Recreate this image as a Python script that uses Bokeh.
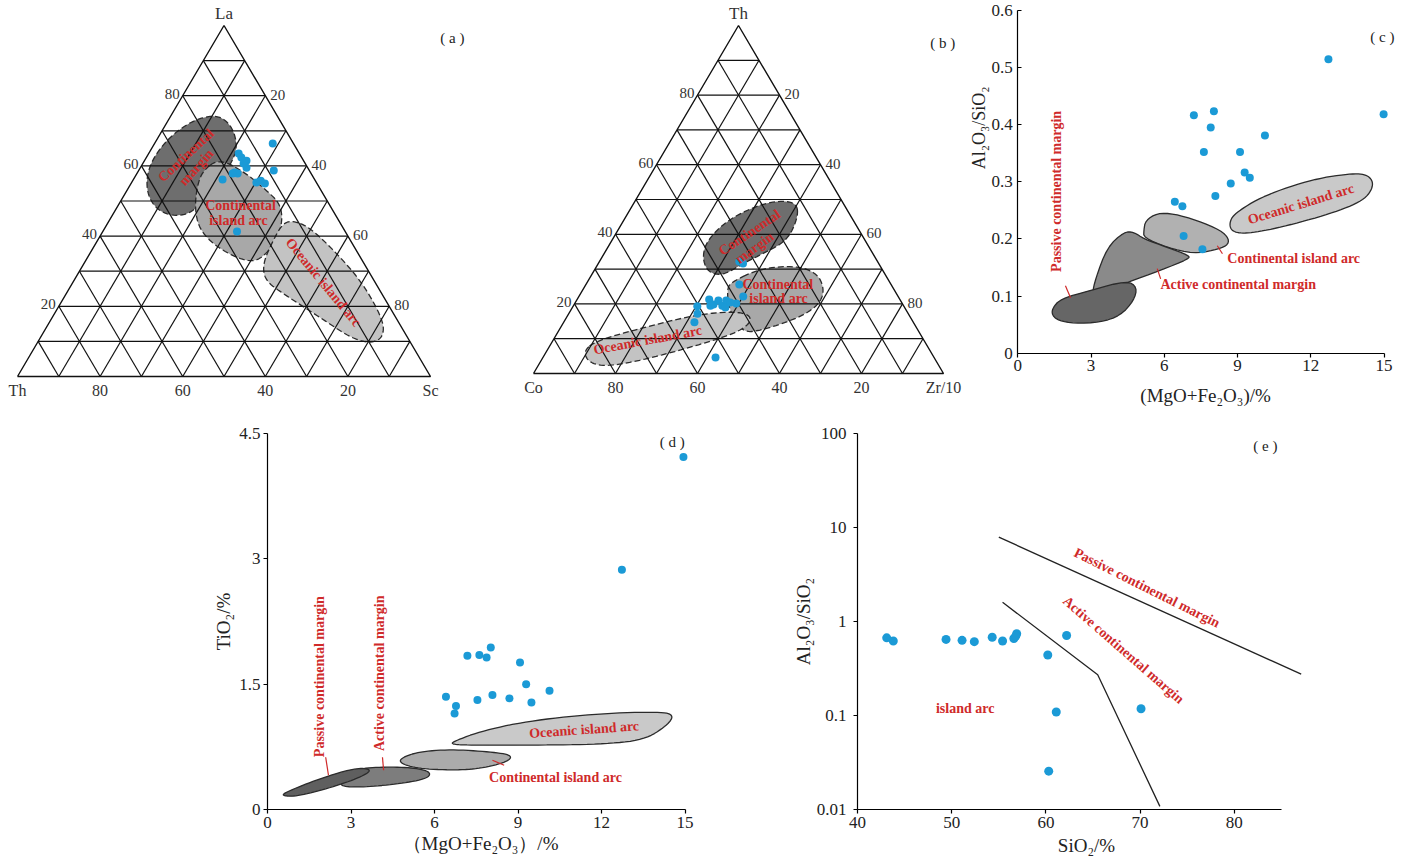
import numpy as np
from bokeh.plotting import figure
from bokeh.layouts import row, column
from bokeh.models import FixedTicker, CustomJSTickFormatter
from bokeh.embed import file_html
from bokeh.resources import INLINE
from bokeh.core.properties import value

SERIF = "Liberation Serif"
RED = "#cf2a2a"
BLUE = "#1b9ad6"
EDGE = "#2b2b2b"
INK = "#222222"

# ---------------- (a) La-Th-Sc ternary: samples (%)
a_La = [66.4, 63.5, 62.4, 61.5, 59.5, 58.1, 57.8, 57.8, 56.1, 58.7, 55.3, 55.8, 55.0, 41.3, 60.7]
a_Th = [5.0, 14.7, 14.6, 13.8, 14.8, 18.4, 17.8, 19.0, 22.3, 8.6, 14.5, 13.2, 12.6, 26.2, 14.9]
a_Sc = [28.6, 21.8, 23.0, 24.7, 25.7, 23.5, 24.4, 23.2, 21.6, 32.7, 30.2, 31.0, 32.4, 32.5, 24.4]
# (a) field outlines (La, Sc in %, Th = rest)
a_cm_La = [74.6, 71.5, 65.8, 60.7, 55.8, 50.7, 46.7, 45.6, 47.3, 51.6, 57.3, 63.0, 68.7, 73.2]
a_cm_Sc = [11.1, 16.1, 20.4, 21.5, 20.6, 20.0, 18.9, 15.3, 10.3, 5.7, 2.6, 1.7, 2.9, 6.2]
a_cia_La = [58.7, 62.1, 57.8, 53.0, 49.3, 44.4, 38.7, 33.0, 33.0, 36.8, 41.6, 47.3, 53.8]
a_cia_Sc = [15.5, 17.9, 26.6, 33.8, 38.9, 42.0, 43.4, 42.2, 38.1, 29.9, 23.4, 19.3, 16.5]
a_oia_La = [44.4, 42.5, 35.0, 26.5, 16.0, 11.1, 9.4, 11.1, 16.8, 23.6, 27.4, 32.2, 38.7, 43.6]
a_oia_Sc = [44.5, 49.5, 59.9, 70.4, 80.6, 83.0, 80.7, 75.0, 64.9, 52.5, 46.2, 43.3, 42.5, 42.4]

# ---------------- (b) Th-Co-Zr/10 ternary: samples (%)
b_Th = [32.2, 31.6, 25.6, 22.1, 20.1, 21.3, 19.8, 21.0, 19.5, 21.0, 19.0, 19.5, 19.3, 17.2, 14.7, 4.6, 20.4]
b_Zr = [34.1, 35.3, 37.4, 40.1, 39.4, 32.2, 34.0, 34.6, 36.3, 36.5, 37.3, 33.4, 30.3, 31.4, 31.9, 42.1, 37.8]
b_Co = [33.7, 33.1, 37.0, 37.8, 40.5, 46.5, 46.2, 44.4, 44.2, 42.5, 43.7, 47.1, 50.4, 51.4, 53.4, 53.3, 41.8]
b_cm_Th = [48.9, 44.8, 38.2, 34.5, 31.6, 28.2, 29.0, 33.3, 38.2, 44.0, 48.3, 49.7]
b_cm_Zr = [39.8, 42.1, 42.8, 38.8, 35.3, 32.2, 28.1, 24.5, 23.2, 25.2, 30.4, 35.3]
b_cia_Th = [26.1, 30.2, 31.0, 28.7, 24.4, 20.4, 17.0, 14.4, 12.4, 11.8, 14.7, 19.5, 23.9]
b_cia_Zr = [34.9, 40.2, 48.8, 54.9, 58.7, 59.8, 57.8, 53.7, 49.1, 45.8, 41.9, 37.8, 35.3]
b_oia_Th = [6.6, 9.5, 13.2, 16.7, 17.8, 17.2, 14.7, 11.5, 7.5, 3.7, 2.0, 3.2]
b_oia_Zr = [8.9, 10.8, 20.2, 30.6, 38.4, 43.8, 45.8, 43.5, 34.5, 24.2, 16.6, 11.8]

tern_grid = [10, 20, 30, 40, 50, 60, 70, 80, 90]
tern_labels = [20, 40, 60, 80]
tern_bottom_ticks = [0, 20, 40, 60, 80, 100]

# ---------------- (c) Al2O3/SiO2 vs MgO+Fe2O3
c_x = [12.72, 14.98, 7.21, 8.03, 7.90, 10.12, 7.62, 9.10, 9.29, 9.50, 8.72, 8.09, 6.43, 6.74, 6.79, 7.56]
c_y = [0.514, 0.418, 0.416, 0.423, 0.395, 0.381, 0.352, 0.352, 0.316, 0.307, 0.297, 0.275, 0.265, 0.257, 0.205, 0.182]
c_pcm_x = [1.41, 1.75, 2.98, 4.48, 4.89, 4.75, 4.21, 3.39, 2.30, 1.68, 1.41]
c_pcm_y = [0.078, 0.095, 0.110, 0.127, 0.115, 0.092, 0.066, 0.054, 0.052, 0.057, 0.066]
c_acm_x = [3.05, 3.18, 3.66, 4.34, 4.75, 5.16, 6.12, 7.01, 7.01, 5.85, 4.48, 3.25]
c_acm_y = [0.104, 0.130, 0.185, 0.212, 0.212, 0.200, 0.185, 0.171, 0.165, 0.145, 0.124, 0.101]
c_cia_x = [5.16, 5.23, 5.71, 6.39, 7.35, 8.31, 8.65, 8.58, 8.03, 7.21, 6.12, 5.16]
c_cia_y = [0.215, 0.232, 0.245, 0.244, 0.232, 0.215, 0.200, 0.188, 0.180, 0.174, 0.185, 0.202]
c_oia_x = [8.65, 8.85, 10.08, 12.13, 13.77, 14.39, 14.59, 14.18, 12.82, 10.77, 9.40, 8.79]
c_oia_y = [0.226, 0.244, 0.276, 0.305, 0.315, 0.311, 0.293, 0.267, 0.244, 0.220, 0.209, 0.212]
c_xticks = [0, 3, 6, 9, 12, 15]
c_yticks = [0, 0.1, 0.2, 0.3, 0.4, 0.5, 0.6]

# ---------------- (d) TiO2 vs MgO+Fe2O3
d_x = [14.94, 12.73, 8.02, 7.18, 7.61, 7.87, 9.07, 9.29, 10.13, 6.41, 8.08, 8.69, 7.54, 9.48, 6.77, 6.72]
d_y = [4.22, 2.87, 1.94, 1.84, 1.85, 1.82, 1.76, 1.50, 1.42, 1.35, 1.37, 1.33, 1.31, 1.28, 1.24, 1.15]
d_pcm_x = [0.54, 1.56, 2.63, 3.35, 3.77, 3.23, 2.16, 1.08, 0.60]
d_pcm_y = [0.19, 0.33, 0.45, 0.50, 0.47, 0.37, 0.25, 0.16, 0.16]
d_acm_x = [2.57, 3.23, 4.19, 5.27, 5.87, 5.75, 4.79, 3.59, 2.75]
d_acm_y = [0.32, 0.49, 0.51, 0.50, 0.45, 0.37, 0.31, 0.27, 0.27]
d_cia_x = [4.76, 5.39, 6.58, 8.02, 8.80, 8.62, 7.66, 6.70, 5.39, 4.79]
d_cia_y = [0.61, 0.69, 0.72, 0.69, 0.65, 0.57, 0.49, 0.47, 0.49, 0.55]
d_oia_x = [6.64, 7.78, 9.58, 11.97, 14.13, 14.60, 14.37, 13.53, 11.97, 9.58, 7.18, 6.64]
d_oia_y = [0.81, 0.95, 1.07, 1.15, 1.17, 1.13, 1.01, 0.83, 0.78, 0.77, 0.77, 0.78]
d_xticks = [0, 3, 6, 9, 12, 15]
d_yticks = [0, 1.5, 3, 4.5]

# ---------------- (e) Al2O3/SiO2 (log) vs SiO2
e_x = [43.1, 43.8, 49.4, 51.1, 52.4, 54.3, 55.4, 56.6, 56.9, 56.8, 62.2, 60.2, 61.1, 70.1, 60.3]
e_y = [0.67, 0.62, 0.645, 0.63, 0.61, 0.68, 0.62, 0.66, 0.74, 0.70, 0.71, 0.44, 0.109, 0.118, 0.0256]
e_pass_x = [55.0, 87.1]
e_pass_y = [7.9, 0.275]
e_act_x = [55.4, 65.5, 72.1]
e_act_y = [1.60, 0.271, 0.0108]
e_xticks = [40, 50, 60, 70, 80]
e_yticks = [0.01, 0.1, 1, 10, 100]


def chaikin(xs, ys, n=3):
    pts = np.column_stack([np.asarray(xs, float), np.asarray(ys, float)])
    for _ in range(n):
        nxt = np.roll(pts, -1, axis=0)
        out = np.empty((2 * len(pts), 2))
        out[0::2] = 0.75 * pts + 0.25 * nxt
        out[1::2] = 0.25 * pts + 0.75 * nxt
        pts = out
    return list(pts[:, 0]), list(pts[:, 1])


def tern_xy(top, right, left=None):
    top = np.asarray(top, float)
    right = np.asarray(right, float)
    total = 100.0 if left is None else top + right + np.asarray(left, float)
    t = top / total * 100
    r = right / total * 100
    return list(r + t / 2), list(t)


def make_fig(w, h, xr, yr, l, r, t, b, yaxis=True, **kw):
    extra = {} if yaxis else dict(y_axis_location=None)
    p = figure(width=w, height=h, x_range=xr, y_range=yr, output_backend="svg", title=None,
               toolbar_location=None, min_border_left=l, min_border_right=r,
               min_border_top=t, min_border_bottom=b, **extra, **kw)
    p.grid.visible = False
    p.outline_line_color = None
    p.background_fill_color = "white"
    p.border_fill_color = "white"
    return p


def style_axis(ax, ticks, size="16px", standoff=3, tick_in=0, tick_out=4):
    ax.ticker = FixedTicker(ticks=ticks)
    ax.formatter = CustomJSTickFormatter(code="return String(Math.round(tick*1000)/1000);")
    ax.axis_line_color = "black"
    ax.axis_line_width = 1.2
    ax.major_tick_line_color = "black"
    ax.major_tick_line_width = 1.2
    ax.major_tick_in = tick_in
    ax.major_tick_out = tick_out
    ax.minor_tick_line_color = None
    ax.major_label_text_font = SERIF
    ax.major_label_text_font_size = size
    ax.major_label_text_color = INK
    ax.major_label_standoff = standoff
    ax.axis_label_text_font = SERIF
    ax.axis_label_text_font_style = "normal"
    ax.axis_label_text_font_size = "19px"
    ax.axis_label_text_color = INK


def red_text(p, x, y, text, angle=0, align="center", size="14px"):
    p.text(x=[x], y=[y], text=[text], angle=angle, angle_units="deg",
           text_font=value(SERIF), text_font_size=size, text_color=RED, text_font_style="bold",
           text_align=align, text_baseline="middle")


def plain_text(p, x, y, text, size="15px", angle=0):
    p.text(x=[x], y=[y], text=[text], angle=angle, angle_units="deg", text_font=value(SERIF),
           text_font_size=size, text_color=INK, text_align="center", text_baseline="middle")


def ternary(p, fields, pts, top_name, left_name, right_name):
    for (fx, fy, col) in fields:
        sx, sy = chaikin(fx, fy, 3)
        p.patch(sx, sy, fill_color=col, line_color=EDGE, line_width=1.3, line_dash="6 3")
    xs, ys = [], []
    for k in tern_grid:
        xs.append([k / 2, 100 - k / 2]); ys.append([k, k])
        xs.append([k, k + (100 - k) / 2]); ys.append([0, 100 - k])
        xs.append([100 - k, (100 - k) / 2]); ys.append([0, 100 - k])
    p.multi_line(xs, ys, line_color="#111111", line_width=1.2)
    p.line([0, 100, 50, 0], [0, 0, 100, 0], line_color="#111111", line_width=1.4)
    p.scatter(pts[0], pts[1], size=8, fill_color=BLUE, line_color=None)
    tl = tern_labels
    common = dict(text_font=value(SERIF), text_font_size="15px", text_color="#333333",
                  text_baseline="middle")
    p.text(x=[v / 2 for v in tl], y=tl, text=[str(v) for v in tl], x_offset=-3, y_offset=-2,
           text_align="right", **common)
    p.text(x=[100 - v / 2 for v in tl], y=tl, text=[str(100 - v) for v in tl], x_offset=5,
           y_offset=-1, text_align="left", **common)
    p.text(x=[50], y=[100], text=[top_name], y_offset=-12, text_font=value(SERIF),
           text_font_size="17px", text_color="#333333", text_baseline="middle", text_align="center")
    ax = p.xaxis[0]
    ax.fixed_location = 0
    ax.ticker = FixedTicker(ticks=tern_bottom_ticks)
    ax.major_label_overrides = {t: (left_name if t == 0 else right_name if t == 100 else str(100 - t))
                                for t in tern_bottom_ticks}
    ax.axis_line_color = None
    ax.major_tick_line_color = None
    ax.minor_tick_line_color = None
    ax.major_tick_in = 0
    ax.major_tick_out = 0
    ax.major_label_standoff = 5
    ax.major_label_text_font = SERIF
    ax.major_label_text_font_size = "16px"
    ax.major_label_text_color = "#333333"


# ---------------- row 1 (axes drawn at fixed locations, frames fill the figures)
H1 = 420
XB = 965  # boundary between panels (b) and (c)

# panel (a)
pa = make_fig(490, H1, (-17 / 4.13, (490 - 17) / 4.13), ((376 - H1) / 3.51, 376 / 3.51),
              0, 0, 0, 0, yaxis=False)
a_fields = []
for La, Sc, col in ((a_cm_La, a_cm_Sc, "#6e6e6e"), (a_cia_La, a_cia_Sc, "#a8a8a8"),
                    (a_oia_La, a_oia_Sc, "#c3c3c3")):
    fx, fy = tern_xy(La, Sc)
    a_fields.append((fx, fy, col))
ternary(pa, a_fields, tern_xy(a_La, a_Sc, a_Th), "La", "Th", "Sc")
red_text(pa, 40.8, 63.0, "Continental", angle=43)
red_text(pa, 43.3, 59.6, "margin", angle=48)
red_text(pa, 54.0, 48.7, "Continental")
red_text(pa, 53.5, 44.4, "island arc")
red_text(pa, 74.1, 26.8, "Oceanic island arc", angle=-50.6)
plain_text(pa, 105.3, 96.3, "( a )")

# panel (b)
pb = make_fig(XB - 490, H1, ((490 - 533) / 4.10, (XB - 533) / 4.10), ((373 - H1) / 3.48, 373 / 3.48),
              0, 0, 0, 0, yaxis=False)
b_fields = []
for Th, Zr, col in ((b_cm_Th, b_cm_Zr, "#6e6e6e"), (b_cia_Th, b_cia_Zr, "#a8a8a8"),
                    (b_oia_Th, b_oia_Zr, "#c3c3c3")):
    fx, fy = tern_xy(Th, Zr)
    b_fields.append((fx, fy, col))
ternary(pb, b_fields, tern_xy(b_Th, b_Zr, b_Co), "Th", "Co", "Zr/10")
red_text(pb, 52.7, 40.5, "Continental", angle=33.7)
red_text(pb, 53.9, 36.1, "margin", angle=36)
red_text(pb, 59.6, 25.6, "Continental")
red_text(pb, 60.2, 21.5, "island  arc")
red_text(pb, 28.7, 9.8, "Oceanic  island  arc", angle=10.5)
plain_text(pb, 99.8, 95.1, "( b )")

# panel (c)
C_SX, C_SY = 24.42, 571.7
pc = make_fig(1410 - XB, H1, ((XB - 1017.3) / C_SX, (1410 - 1017.3) / C_SX),
              ((352.7 - H1) / C_SY, 352.7 / C_SY), 0, 0, 0, 0)
style_axis(pc.xaxis[0], c_xticks, size="17px")
style_axis(pc.yaxis[0], c_yticks, size="17px", standoff=5, tick_in=4, tick_out=0)
pc.xaxis[0].fixed_location = 0
pc.yaxis[0].fixed_location = 0
pc.xaxis[0].bounds = (0, 15)
pc.yaxis[0].bounds = (0, 0.6)
for fx, fy, col, n in ((c_oia_x, c_oia_y, "#c9c9c9", 3), (c_cia_x, c_cia_y, "#b1b1b1", 2),
                       (c_acm_x, c_acm_y, "#8a8a8a", 2), (c_pcm_x, c_pcm_y, "#666666", 2)):
    sx, sy = chaikin(fx, fy, n)
    pc.patch(sx, sy, fill_color=col, line_color=EDGE, line_width=1.3)
pc.scatter(c_x, c_y, size=8, fill_color=BLUE, line_color=None)
pc.segment(x0=[1.95, 5.71, 8.17], y0=[0.118, 0.148, 0.188], x1=[2.16, 5.85, 8.38],
           y1=[0.097, 0.130, 0.174], line_color=RED, line_width=1.2)
red_text(pc, 1.59, 0.283, "Passive continental margin", angle=90)
red_text(pc, 5.84, 0.121, "Active continental margin", align="left")
red_text(pc, 8.58, 0.165, "Continental island arc", align="left")
red_text(pc, 11.59, 0.261, "Oceanic island arc", angle=17)
plain_text(pc, 14.93, 0.553, "( c )")
plain_text(pc, 7.69, -0.074, "(MgO+Fe₂O₃)/%", size="19px")
plain_text(pc, -1.58, 0.394, "Al₂O₃/SiO₂", size="18px", angle=90)

# ---------------- row 2: frames share top (13 px) and bottom (51 px) borders
H2 = 440
TOP2, BOT2 = 13, 51
pd_ = make_fig(740, H2, (0, (740 - 267 - 47) / 27.84), (0, 4.5), 267, 47, TOP2, BOT2)
style_axis(pd_.xaxis[0], d_xticks, size="17px")
style_axis(pd_.yaxis[0], d_yticks, size="17px")
pd_.xaxis[0].bounds = (0, 15)
pd_.xaxis[0].axis_label = "（MgO+Fe₂O₃）/%"
pd_.xaxis[0].axis_label_standoff = 2
pd_.yaxis[0].axis_label = "TiO₂/%"
pd_.yaxis[0].axis_label_standoff = 2
for fx, fy, col in ((d_oia_x, d_oia_y, "#c9c9c9"), (d_cia_x, d_cia_y, "#ababab"),
                    (d_acm_x, d_acm_y, "#7d7d7d"), (d_pcm_x, d_pcm_y, "#5f5f5f")):
    sx, sy = chaikin(fx, fy, 3)
    pd_.patch(sx, sy, fill_color=col, line_color=EDGE, line_width=1.3)
pd_.scatter(d_x, d_y, size=8, fill_color=BLUE, line_color=None)
pd_.segment(x0=[2.09, 4.13, 8.08], y0=[0.625, 0.625, 0.59], x1=[2.19, 4.17, 8.50],
            y1=[0.41, 0.47, 0.53], line_color=RED, line_width=1.2)
red_text(pd_, 1.85, 1.59, "Passive continental margin", angle=90)
red_text(pd_, 4.01, 1.63, "Active continental margin", angle=90)
red_text(pd_, 11.37, 0.956, "Oceanic island arc", angle=4)
red_text(pd_, 7.96, 0.38, "Continental island arc", align="left")
plain_text(pd_, 14.54, 4.40, "( d )")

pe = make_fig(670, H2, (40, 40 + (670 - 117 - 95) / 9.42), (0.01, 100),
              117, 95, TOP2, BOT2, y_axis_type="log")
style_axis(pe.xaxis[0], e_xticks, size="17px")
style_axis(pe.yaxis[0], e_yticks, size="17px", standoff=7)
pe.xaxis[0].bounds = (40, 85)
pe.xaxis[0].axis_label = "SiO₂/%"
pe.xaxis[0].axis_label_standoff = 4
pe.yaxis[0].axis_label = "Al₂O₃/SiO₂"
pe.yaxis[0].axis_label_standoff = 0
pe.line(e_pass_x, e_pass_y, line_color=INK, line_width=1.3)
pe.line(e_act_x, e_act_y, line_color=INK, line_width=1.3)
pe.scatter(e_x, e_y, size=9, fill_color=BLUE, line_color=None)
red_text(pe, 70.72, 2.29, "Passive continental margin", angle=-26.6)
red_text(pe, 68.24, 0.498, "Active continental margin", angle=-41)
red_text(pe, 51.43, 0.119, "island arc")
plain_text(pe, 83.3, 74, "( e )")

layout = column(row(pa, pb, pc), row(pd_, pe))
open("out.html", "w").write(file_html(layout, INLINE))
